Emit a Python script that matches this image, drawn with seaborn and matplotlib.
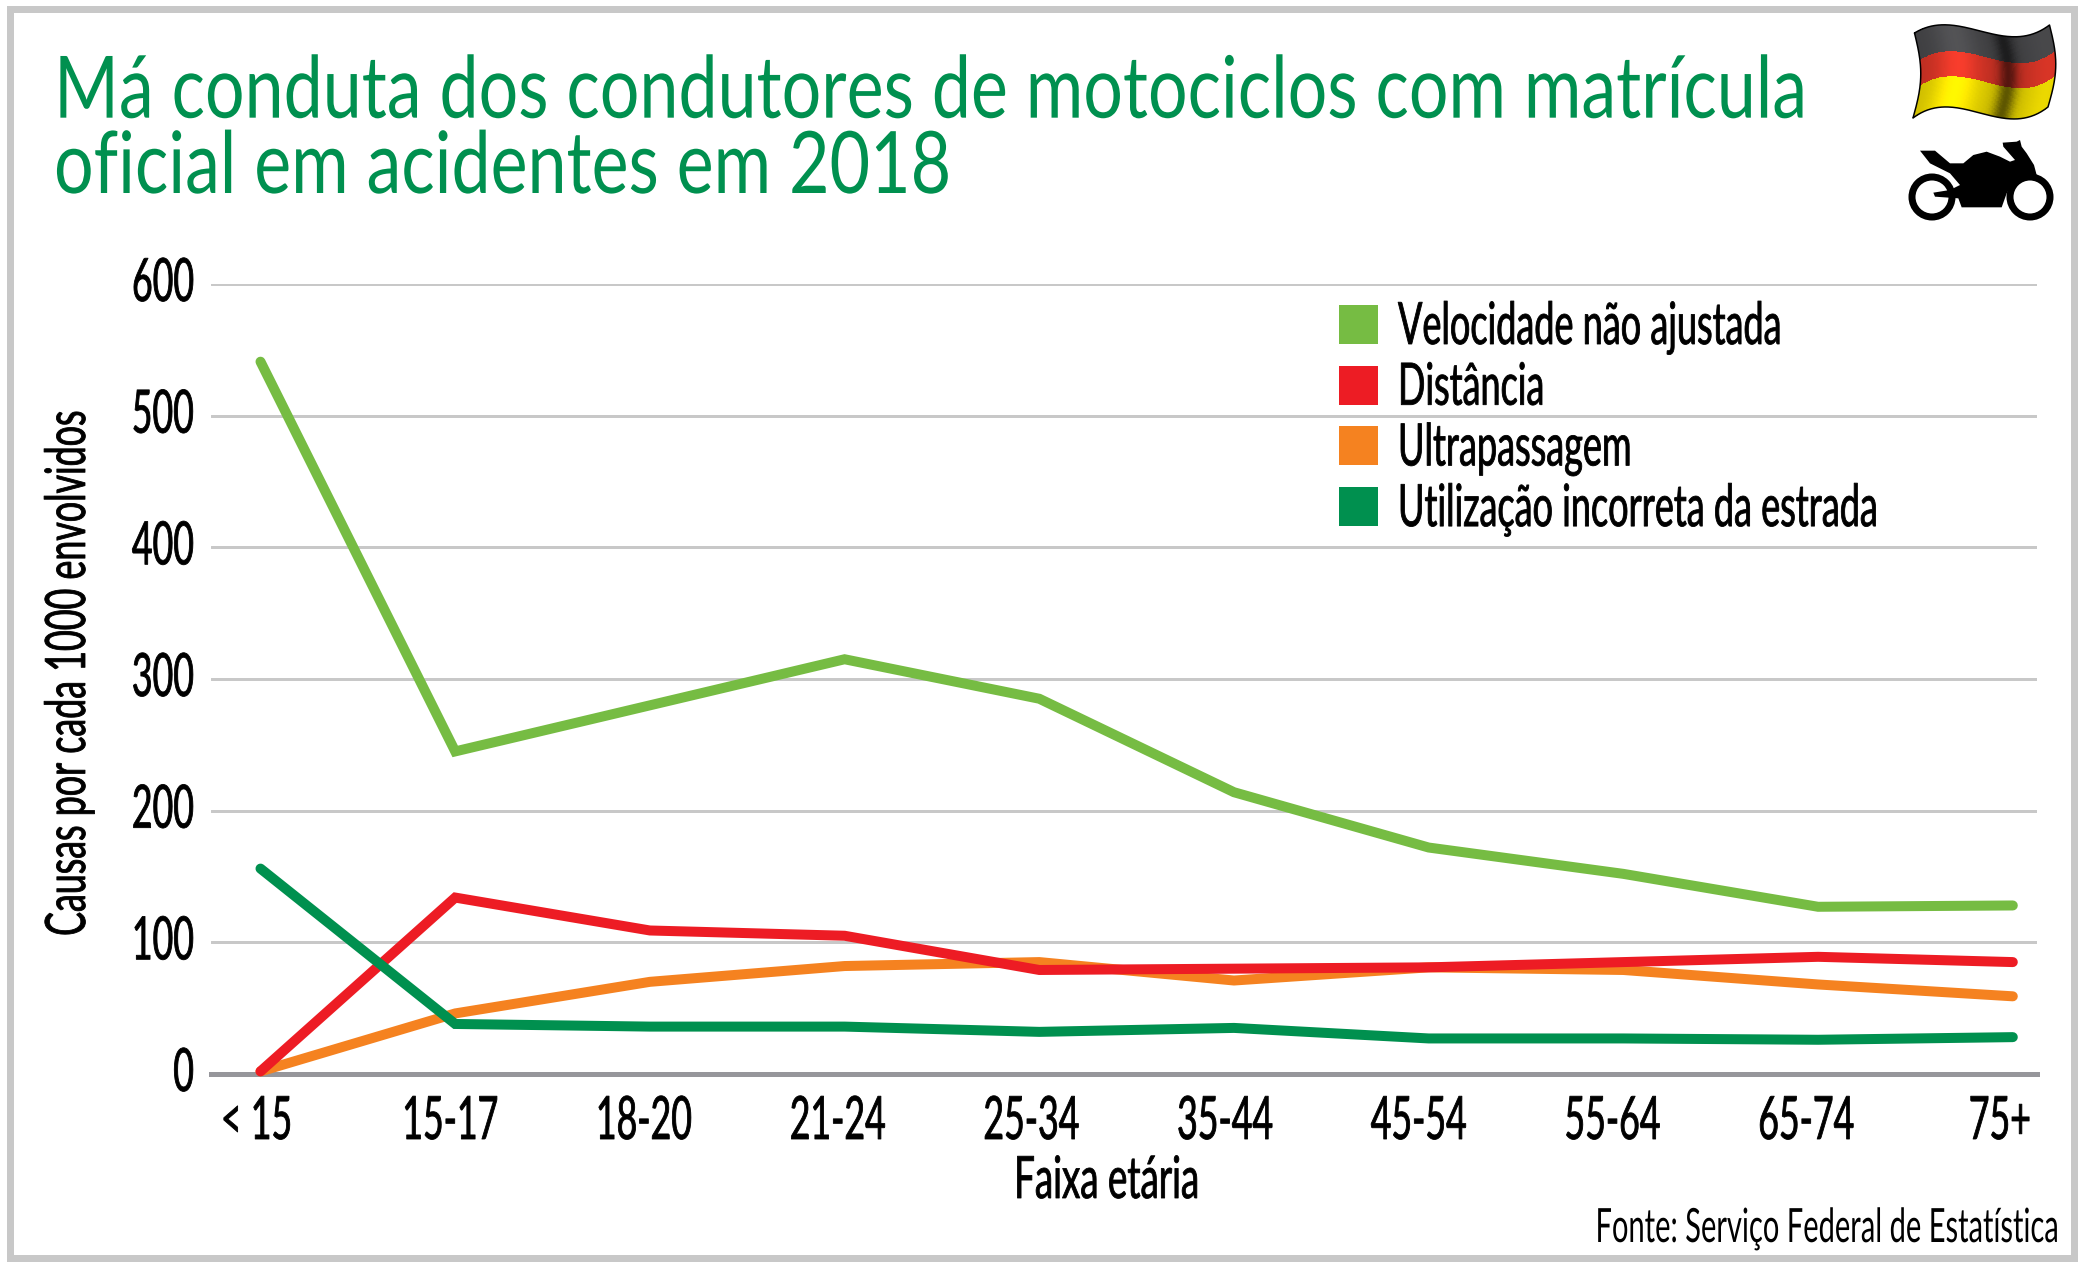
import numpy as np
import pandas as pd
import matplotlib
matplotlib.use("Agg")
import matplotlib.pyplot as plt
import matplotlib.patheffects as pe
from matplotlib.patches import Patch, Rectangle, Polygon, Circle
from matplotlib.transforms import Affine2D
import seaborn as sns

age_groups = ["< 15", "15-17", "18-20", "21-24", "25-34", "35-44", "45-54", "55-64", "65-74", "75+"]
velocidade = [541, 245, 280, 315, 285, 214, 172, 152, 127, 128]
distancia = [2, 134, 109, 105, 79, 80, 81, 85, 89, 85]
ultrapassagem = [2, 46, 70, 82, 85, 71, 81, 79, 68, 59]
utilizacao = [156, 38, 36, 36, 32, 35, 27, 27, 26, 28]
y_ticks = [0, 100, 200, 300, 400, 500, 600]

name_vel = "Velocidade não ajustada"
name_dis = "Distância"
name_ult = "Ultrapassagem"
name_uti = "Utilização incorreta da estrada"
title_text = "Má conduta dos condutores de motociclos com matrícula\noficial em acidentes em 2018"
source_text = "Fonte: Serviço Federal de Estatística"
x_label = "Faixa etária"
y_label = "Causas por cada 1000 envolvidos"

colors = {name_vel: "#76bc43", name_dis: "#ed1c24", name_ult: "#f58220", name_uti: "#00904f"}

W, H = 2084, 1268
DPI = 100
PX = 72 / DPI

sns.set_theme(style="white")
plt.rcParams["font.family"] = ["Lato", "DejaVu Sans"]


class Tall(pe.AbstractPathEffect):
    """Stretch a text's glyphs vertically from the baseline; it stays real text."""
    def __init__(self, sy=1.0, stroke=0.0, dy=0.0):
        super().__init__()
        self.sy, self.stroke, self.dy = sy, stroke, dy

    def draw_path(self, renderer, gc, tpath, affine, rgbFace=None):
        t = Affine2D().scale(1, self.sy) + affine + Affine2D().translate(0, self.dy)
        gc0 = renderer.new_gc()
        gc0.copy_properties(gc)
        if self.stroke > 0:
            gc0.set_linewidth(self.stroke)
            gc0.set_foreground(rgbFace)
        renderer.draw_path(gc0, tpath, t, rgbFace)
        gc0.restore()


fig = plt.figure(figsize=(W / DPI, H / DPI), dpi=DPI, facecolor="white")
renderer = fig.canvas.get_renderer()


def natural_scale(string, visual_pt, target_px):
    """Return (font size giving width target_px, vertical stretch restoring visual_pt)."""
    probe = fig.text(0.5, 0.5, string, fontsize=visual_pt)
    w = probe.get_window_extent(renderer).width
    probe.remove()
    sy = w / target_px
    return visual_pt / sy, sy


AX_L, AX_R, AX_T, AX_B = 211, 2037, 284, 1074
ax = fig.add_axes([AX_L / W, 1 - AX_B / H, (AX_R - AX_L) / W, (AX_B - AX_T) / H])

rows = []
for name, vals in [(name_vel, velocidade), (name_ult, ultrapassagem), (name_dis, distancia), (name_uti, utilizacao)]:
    rows += [{"Faixa": a, "Valor": v, "Causa": name} for a, v in zip(age_groups, vals)]
df = pd.DataFrame(rows)

sns.lineplot(data=df, x="Faixa", y="Valor", hue="Causa", palette=colors, sort=False,
             estimator=None, errorbar=None, legend=False, ax=ax,
             linewidth=10 * PX, solid_capstyle="round", solid_joinstyle="miter", zorder=3)
for ln in ax.get_lines():
    ln.set_clip_on(False)

pitch = 194.7
ax.set_xlim((AX_L - 260.5) / pitch, (AX_R - 260.5) / pitch)
ax.set_ylim(0, 600)
ax.set_yticks(y_ticks)
ax.grid(False)
ax.yaxis.grid(True, color="#c8c8c8", linewidth=3 * PX, zorder=1)
ax.set_axisbelow(True)
for s in ("top", "left", "right"):
    ax.spines[s].set_visible(False)
ax.spines["bottom"].set_color("#96969b")
ax.spines["bottom"].set_linewidth(5 * PX)
ax.spines["bottom"].set_zorder(2)

# tick labels sit on a slightly tighter pitch than the points in the reference
tick_fs, tick_sy = natural_scale("600", 43, 62)
idx = np.arange(len(age_groups))
ax.set_xticks((idx * 193.7 - 4) / pitch, age_groups)
ax.tick_params(axis="x", length=0, pad=65 * PX, labelsize=tick_fs)
ax.tick_params(axis="y", length=0, pad=17 * PX, labelsize=tick_fs)
for t in ax.get_xticklabels():
    t.set_va("baseline")
    t.set_color("black")
    t.set_path_effects([Tall(tick_sy, 0.6)])
for t in ax.get_yticklabels():
    t.set_va("baseline")
    t.set_color("black")
    t.set_path_effects([Tall(tick_sy, 0.6, dy=-17)])

xl_fs, xl_sy = natural_scale(x_label, 42, 185)
ax.set_xlabel(x_label, fontsize=xl_fs, color="black", va="baseline", ha="center")
ax.xaxis.set_label_coords(1107 / W, 1 - 1198 / H, transform=fig.transFigure)
ax.xaxis.label.set_path_effects([Tall(xl_sy, 0.6)])

yl_fs, yl_sy = natural_scale(y_label, 40, 525)
ax.set_ylabel(y_label, fontsize=yl_fs, color="black", rotation=90, rotation_mode="anchor",
              va="baseline", ha="center")
ax.yaxis.set_label_coords(85 / W, 1 - 674 / H, transform=fig.transFigure)
ax.yaxis.label.set_path_effects([Tall(yl_sy, 0.6)])

leg_fs, leg_sy = natural_scale(name_uti, 42, 480)
em = leg_fs / PX
hh = (39 - 0.245 * em) / (0.65 * em)
leg_descent = 0.35 * em * (hh - 0.7)
handles = [Patch(facecolor=colors[n], edgecolor="none", label=n)
           for n in (name_vel, name_dis, name_ult, name_uti)]
leg = ax.legend(handles=handles, loc="upper left", frameon=False, fontsize=leg_fs,
                bbox_to_anchor=(1339 / W, 1 - 305 / H), bbox_transform=fig.transFigure,
                borderpad=0, borderaxespad=0, handlelength=39 / em, handleheight=hh,
                handletextpad=20 / em, labelspacing=21.7 / em, labelcolor="black")
for t in leg.get_texts():
    t.set_path_effects([Tall(leg_sy, 0.6, dy=-leg_descent)])

title_first = title_text.split("\n")[0]
title_fs, title_sy = natural_scale(title_first, 62, 1754)
title = fig.text(54 / W, 1 - 193 / H, title_text, color="#00904f", fontsize=title_fs,
                 ha="left", va="baseline", linespacing=76 / (1.216 * title_fs))
title.set_path_effects([Tall(title_sy)])

src_fs, src_sy = natural_scale(source_text, 34, 464)
fig.text(2061 / W, 1 - 1242 / H, source_text, color="black", fontsize=src_fs, ha="right",
         va="baseline", path_effects=[Tall(src_sy)])

# decoration layer in pixel coordinates: frame, flag, motorcycle
deco = fig.add_axes([0, 0, 1, 1], facecolor="none", zorder=5)
deco.set_xlim(0, W)
deco.set_ylim(H, 0)
deco.axis("off")
deco.add_patch(Rectangle((9.5, 8.5), 2064.5, 1249.5, fill=False, edgecolor="#c8c8c8", linewidth=7 * PX))

nu, nv = 120, 60
u = np.linspace(0, 1, nu)
v = np.linspace(0, 1, nv)
top_c = np.polyfit([0, 0.26, 0.66, 1], [33, 25, 36, 25], 3)
bot_c = np.polyfit([0, 0.26, 0.66, 1], [118, 107, 118, 107], 3)
U, V = np.meshgrid(u, v)
Y = np.polyval(top_c, U) * (1 - V) + np.polyval(bot_c, U) * V
bow = 7 * np.sin(np.pi * V)
X = 1913 + U * 135 + bow + 1.5 * (1 - V)
shade = 0.82 + 0.26 * np.exp(-((U - 0.28) / 0.16) ** 2) - 0.45 * np.exp(-((U - 0.65) / 0.07) ** 2) \
    + 0.12 * np.exp(-((U - 0.95) / 0.15) ** 2)
C = np.zeros((nv - 1, nu - 1, 3))
Vm = (V[:-1, :-1] + V[1:, 1:]) / 2
Sm = (shade[:-1, :-1] + shade[1:, 1:]) / 2
for lo, hi, rgb in [(0, 0.32, (0.30, 0.30, 0.31)), (0.32, 0.63, (0.90, 0.22, 0.16)), (0.63, 1.01, (0.98, 0.90, 0.0))]:
    C[(Vm >= lo) & (Vm < hi)] = rgb
C = np.clip(C * Sm[..., None], 0, 1)
deco.pcolormesh(X, Y, C, shading="flat", rasterized=True, linewidth=0, antialiased=False)
edge_x = np.r_[X[0], X[:, -1], X[-1][::-1], X[:, 0][::-1]]
edge_y = np.r_[Y[0], Y[:, -1], Y[-1][::-1], Y[:, 0][::-1]]
deco.plot(edge_x, edge_y, color="black", linewidth=1.5 * PX)

for cx, cy, r in [(1932, 197, 20), (2030, 197, 20)]:
    deco.add_patch(Circle((cx, cy), r, fill=False, edgecolor="black", linewidth=7 * PX))
body_z = [(210, 452), (255, 452), (300, 490), (340, 490), (370, 465), (410, 455), (450, 470), (480, 485),
          (495, 480), (460, 440), (458, 428), (500, 425), (510, 420), (515, 440), (530, 460), (552, 495),
          (560, 525), (520, 530), (490, 545), (470, 580), (455, 622), (335, 622), (325, 595), (255, 590),
          (250, 578), (300, 570), (330, 555), (300, 520), (270, 505), (240, 490)]
deco.add_patch(Polygon([(1850 + a / 3, b / 3) for a, b in body_z], closed=True, facecolor="black", edgecolor="none"))

fig.savefig("out.png", dpi=DPI, facecolor="white")
